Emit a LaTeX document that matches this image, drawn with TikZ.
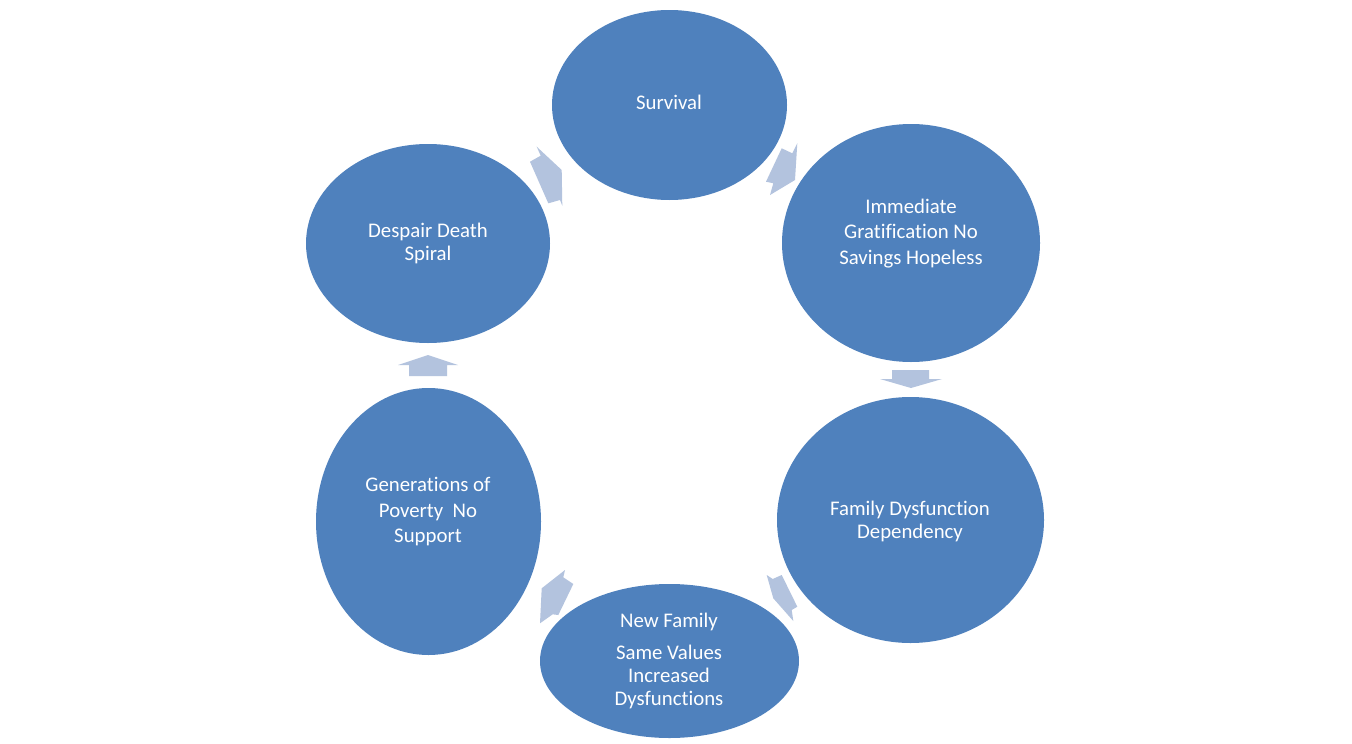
\documentclass[tikz,border=0pt]{standalone}
\usepackage{fontspec}
\setmainfont{Carlito}[Ligatures=NoCommon]
\usetikzlibrary{shapes.geometric}
\definecolor{blobblue}{HTML}{4F81BD}
\definecolor{arrowblue}{HTML}{B3C3DE}
\begin{document}
\begin{tikzpicture}[x=1pt,y=-1pt,
  blob/.style={ellipse,fill=blobblue,draw=none,inner sep=0pt},
  txt/.style={text=white,anchor=base,inner sep=0pt,font=\fontsize{20.8}{25}\selectfont},
  blockarrow/.style={fill=arrowblue,draw=none}]
\fill[white] (0,0) rectangle (1352,744);
\useasboundingbox (0,0) rectangle (1352,744);
% ellipses
\node[blob,minimum width=235pt,minimum height=190pt] (surv) at (669.5,105) {};
\node[blob,minimum width=258pt,minimum height=238pt] (imm) at (911,243) {};
\node[blob,minimum width=267pt,minimum height=246pt] (fam) at (910.5,520) {};
\node[blob,minimum width=259pt,minimum height=154pt] (newf) at (669.5,661) {};
\node[blob,minimum width=225pt,minimum height=267pt] (gen) at (428.5,521.5) {};
\node[blob,minimum width=244pt,minimum height=199pt] (desp) at (428,243.5) {};
% texts
\node[txt] (survt) at (669,109) {Survival};
\node[txt] (imma) at (911,213) {Immediate};
\node[txt] (immb) at (911,238.5) {Gratification No};
\node[txt] (immc) at (911,264) {Savings Hopeless};
\node[txt] (fama) at (910,515) {Family Dysfunction};
\node[txt] (famb) at (910,538) {Dependency};
\node[txt] (newa) at (669,627) {New Family};
\node[txt] (newb) at (669,659) {Same Values};
\node[txt] (newc) at (669,682) {Increased};
\node[txt] (newd) at (669,705) {Dysfunctions};
\node[txt] (gena) at (428,491) {Generations of};
\node[txt] (genb) at (428,517) {Poverty\ \ No};
\node[txt] (genc) at (428,542) {Support};
\node[txt] (despa) at (428,237) {Despair Death};
\node[txt] (despb) at (428,260) {Spiral};
% block arrows
\fill[blockarrow] (536.7,146.7) -- (561.7,170) -- (562.3,205.7) -- (560,200) -- (548.3,203.3) -- (530,161.7) -- (540.7,155.7) -- cycle;
\fill[blockarrow] (797.3,143.3) -- (795,180) -- (770,195) -- (773.3,183.3) -- (766,181.7) -- (781.7,148.3) -- (792.3,153.3) -- cycle;
\fill[blockarrow] (892,370) -- (929,370) -- (929,379) -- (942,379) -- (911,388) -- (880,379) -- (892,379) -- cycle;
\fill[blockarrow] (766.7,575) -- (772.7,579) -- (781.7,575) -- (797.3,606.7) -- (791.7,610) -- (793.3,621) -- (773.3,598.3) -- cycle;
\fill[blockarrow] (565,570) -- (563.3,577.3) -- (573.3,584) -- (558.3,615) -- (552.7,614.3) -- (540,623.3) -- (541.7,588.3) -- cycle;
\fill[blockarrow] (409,376) -- (447,376) -- (447,365) -- (458,365) -- (428,355) -- (398,365) -- (409,365) -- cycle;
\end{tikzpicture}
\end{document}
